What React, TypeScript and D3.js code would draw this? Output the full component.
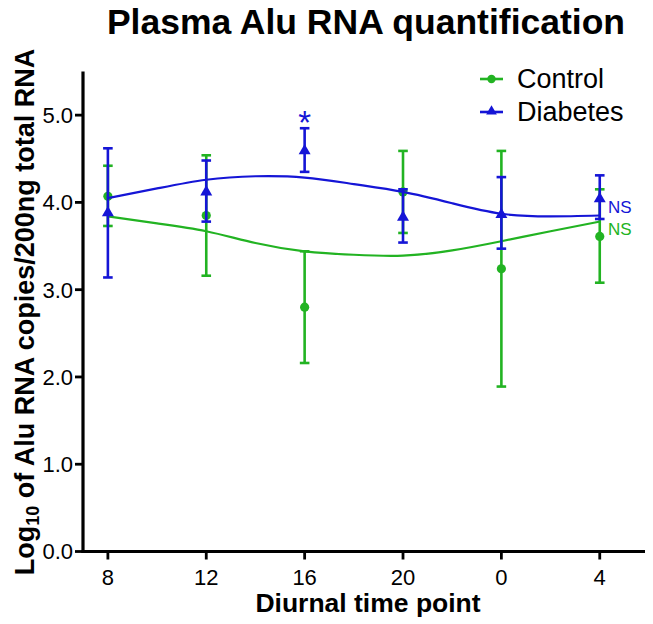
import React from "react";
import * as d3 from "d3";

const timeLabels = ["8", "12", "16", "20", "0", "4"];
const controlMean = [4.07, 3.85, 2.8, 4.12, 3.24, 3.61];
const controlUpper = [4.42, 4.54, 3.44, 4.59, 4.59, 4.15];
const controlLower = [3.73, 3.16, 2.16, 3.65, 1.89, 3.08];
const diabetesMean = [3.88, 4.12, 4.59, 3.83, 3.86, 4.04];
const diabetesUpper = [4.62, 4.48, 4.85, 4.15, 4.29, 4.31];
const diabetesLower = [3.14, 3.78, 4.35, 3.54, 3.47, 3.81];
// fitted curves read at half-step positions (index 0, 0.5, ... 5)
const fitPositions = [0, 0.5, 1, 1.5, 2, 2.5, 3, 3.5, 4, 4.5, 5];
const diabetesFit = [4.05, 4.16, 4.26, 4.3, 4.285, 4.21, 4.12, 3.99, 3.87, 3.84, 3.85];
const controlFit = [3.84, 3.76, 3.67, 3.535, 3.44, 3.4, 3.39, 3.45, 3.555, 3.67, 3.78];
const yTicks = [0, 1, 2, 3, 4, 5];

const GREEN = "#22b322";
const BLUE = "#1515d6";
const FONT = "'Liberation Sans', Arial, Helvetica, sans-serif";

export default function App() {
  const W = 653, H = 624;
  const x = d3.scaleLinear().domain([-0.253, 5.46]).range([83, 645]);
  const y = d3.scaleLinear().domain([0, 5.5]).range([551.5, 71.5]);
  const line = d3
    .line<number>()
    .x((_, i) => x(fitPositions[i]))
    .y((d) => y(d))
    .curve(d3.curveNatural);
  const tri = d3.symbol().type(d3.symbolTriangle).size(62)()!;
  const capW = 4.8;

  const errBars = (mean: number[], up: number[], lo: number[], color: string) =>
    mean.map((m, i) => (
      <g key={i} stroke={color} strokeWidth={2.6} fill="none">
        <line x1={x(i)} x2={x(i)} y1={y(up[i])} y2={y(lo[i])} />
        <line x1={x(i) - capW} x2={x(i) + capW} y1={y(up[i])} y2={y(up[i])} />
        <line x1={x(i) - capW} x2={x(i) + capW} y1={y(lo[i])} y2={y(lo[i])} />
      </g>
    ));

  return (
    <svg
      width={W}
      height={H}
      style={{ position: "absolute", left: 0, top: 0, background: "#fff" }}
      fontFamily={FONT}
    >
      <rect width={W} height={H} fill="#fff" />
      {/* title */}
      <text x={366} y={34} textAnchor="middle" fontSize={35.5} fontWeight="bold" fill="#000">
        Plasma Alu RNA quantification
      </text>

      {/* control */}
      <path d={line(controlFit) || ""} fill="none" stroke={GREEN} strokeWidth={2.2} />
      {errBars(controlMean, controlUpper, controlLower, GREEN)}
      {controlMean.map((m, i) => (
        <circle key={i} cx={x(i)} cy={y(m)} r={4.6} fill={GREEN} />
      ))}

      {/* diabetes */}
      <path d={line(diabetesFit) || ""} fill="none" stroke={BLUE} strokeWidth={2.2} />
      {errBars(diabetesMean, diabetesUpper, diabetesLower, BLUE)}
      {diabetesMean.map((m, i) => (
        <path key={i} d={tri} transform={`translate(${x(i)},${y(m)})`} fill={BLUE} />
      ))}

      {/* annotations */}
      <text x={x(2)} y={134} textAnchor="middle" fontSize={33} fill={BLUE}>*</text>
      <text x={608} y={212.5} fontSize={17} fill={BLUE}>NS</text>
      <text x={608} y={235} fontSize={17} fill={GREEN}>NS</text>

      {/* axes */}
      <line x1={83} x2={83} y1={71.5} y2={553} stroke="#000" strokeWidth={3.2} />
      <line x1={81.5} x2={645} y1={551.5} y2={551.5} stroke="#000" strokeWidth={3.2} />
      {yTicks.map((t) => (
        <g key={t}>
          <line x1={75} x2={83} y1={y(t)} y2={y(t)} stroke="#000" strokeWidth={2.8} />
          <text x={73} y={y(t)} dy="0.36em" textAnchor="end" fontSize={22} fill="#000">
            {t.toFixed(1)}
          </text>
        </g>
      ))}
      {timeLabels.map((t, i) => (
        <g key={t}>
          <line x1={x(i)} x2={x(i)} y1={551.5} y2={559.5} stroke="#000" strokeWidth={2.8} />
          <text x={x(i)} y={585} textAnchor="middle" fontSize={22} fill="#000">
            {t}
          </text>
        </g>
      ))}
      <text x={368} y={612} textAnchor="middle" fontSize={26.5} fontWeight="bold" fill="#000">
        Diurnal time point
      </text>
      <text
        transform="translate(34,312) rotate(-90)"
        textAnchor="middle"
        fontSize={27}
        fontWeight="bold"
        fill="#000"
      >
        Log<tspan fontSize={18} dy={5}>10</tspan>
        <tspan dy={-5}> of Alu RNA copies/200ng total RNA</tspan>
      </text>

      {/* legend */}
      <g>
        <line x1={480} x2={503} y1={79} y2={79} stroke={GREEN} strokeWidth={2.6} />
        <circle cx={491.5} cy={79} r={4.2} fill={GREEN} />
        <text x={517} y={88} fontSize={27} fill="#000">Control</text>
        <line x1={480} x2={503} y1={112} y2={112} stroke={BLUE} strokeWidth={2.6} />
        <path d={d3.symbol().type(d3.symbolTriangle).size(50)()!} transform="translate(491.5,111.5)" fill={BLUE} />
        <text x={517} y={121} fontSize={27} fill="#000">Diabetes</text>
      </g>
    </svg>
  );
}
